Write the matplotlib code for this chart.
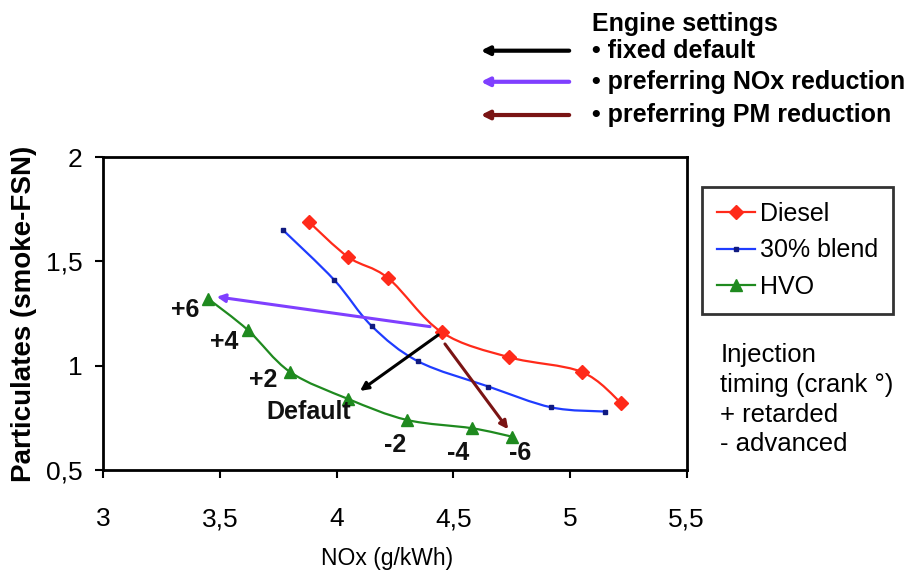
import matplotlib
matplotlib.use("Agg")
import matplotlib.pyplot as plt
from matplotlib.patches import FancyArrowPatch, PathPatch
from matplotlib.path import Path
from matplotlib.lines import Line2D

plt.rcParams['font.family'] = ['Liberation Sans', 'DejaVu Sans']

# ---- data ----
diesel_nox = [3.88, 4.05, 4.22, 4.45, 4.74, 5.05, 5.22]
diesel_pm = [1.69, 1.52, 1.42, 1.16, 1.04, 0.97, 0.82]

blend_nox = [3.77, 3.99, 4.15, 4.35, 4.65, 4.92, 5.15]
blend_pm = [1.65, 1.41, 1.19, 1.02, 0.90, 0.80, 0.78]

hvo_nox = [3.45, 3.62, 3.80, 4.05, 4.30, 4.58, 4.75]
hvo_pm = [1.32, 1.17, 0.97, 0.84, 0.74, 0.70, 0.66]

timing_labels = ["+6", "+4", "+2", "Default", "-2", "-4", "-6"]

arrow_names = ["fixed default", "preferring NOx reduction", "preferring PM reduction"]
arrow_start_nox = [4.435, 4.40, 4.464]
arrow_start_pm = [1.147, 1.187, 1.104]
arrow_end_nox = [4.10, 3.486, 4.735]
arrow_end_pm = [0.879, 1.33, 0.695]

x_ticks = [3, 3.5, 4, 4.5, 5, 5.5]
x_tick_labels = ["3", "3,5", "4", "4,5", "5", "5,5"]
y_ticks = [0.5, 1, 1.5, 2]
y_tick_labels = ["0,5", "1", "1,5", "2"]


def smooth_path(xs, ys):
    """Excel-like smoothed line: cubic Bezier segments through the points."""
    pts = list(zip(xs, ys))
    n = len(pts)
    verts = [pts[0]]
    codes = [Path.MOVETO]
    for i in range(n - 1):
        p0 = pts[i - 1] if i > 0 else pts[i]
        p1 = pts[i]
        p2 = pts[i + 1]
        p3 = pts[i + 2] if i + 2 < n else pts[i + 1]
        c1 = (p1[0] + (p2[0] - p0[0]) / 6, p1[1] + (p2[1] - p0[1]) / 6)
        c2 = (p2[0] - (p3[0] - p1[0]) / 6, p2[1] - (p3[1] - p1[1]) / 6)
        verts += [c1, c2, p2]
        codes += [Path.CURVE4] * 3
    return Path(verts, codes)


# ---- figure ----
fig = plt.figure(figsize=(9.06, 5.80), dpi=100)
ax = fig.add_axes([0.114, 0.1897, 0.758 - 0.114, 0.7293 - 0.1897])

series = [
    (diesel_nox, diesel_pm, "Diesel", "#ff2a1a", "D", 7, "#ff2a1a"),
    (blend_nox, blend_pm, "30% blend", "#1f3cff", "s", 3.5, "#101a80"),
    (hvo_nox, hvo_pm, "HVO", "#1f8a1f", "^", 8.5, "#1f8a1f"),
]
handles = []
for xs, ys, name, col, mk, ms, mcol in series:
    ax.add_patch(PathPatch(smooth_path(xs, ys), facecolor="none", edgecolor=col,
                           lw=1.6, zorder=2))
    ax.plot(xs, ys, ls="none", marker=mk, markersize=ms, markerfacecolor=mcol,
            markeredgecolor=mcol, zorder=3)
    handles.append(Line2D([], [], color=col, lw=1.6, marker=mk, markersize=ms,
                          markerfacecolor=mcol, markeredgecolor=mcol, label=name))

arrow_colors = ["black", "#7f3fff", "#7a1414"]
for x0, y0, x1, y1, c in zip(arrow_start_nox, arrow_start_pm, arrow_end_nox,
                             arrow_end_pm, arrow_colors):
    ax.annotate("", xy=(x1, y1), xytext=(x0, y0),
                arrowprops=dict(arrowstyle="-|>", color=c, lw=2.2,
                                mutation_scale=12, shrinkA=0, shrinkB=0))

# timing labels (offsets from each HVO point)
label_offsets = [(-0.10, -0.053), (-0.10, -0.055), (-0.114, -0.04),
                 (-0.17, -0.06), (-0.05, -0.12), (-0.06, -0.12), (0.035, -0.08)]
for x, y, t, (dx, dy) in zip(hvo_nox, hvo_pm, timing_labels, label_offsets):
    ax.text(x + dx, y + dy, t, fontsize=18, fontweight="bold",
            ha="center", va="center", color="#111111")

ax.set_xlim(3, 5.5)
ax.set_ylim(0.5, 2)
ax.set_xticks(x_ticks)
ax.set_xticklabels(x_tick_labels)
ax.set_yticks(y_ticks)
ax.set_yticklabels(y_tick_labels)
ax.tick_params(axis="x", direction="out", length=6, width=1.5, labelsize=19, pad=21)
ax.tick_params(axis="y", direction="out", length=6, width=1.5, labelsize=19, pad=9)
for s in ax.spines.values():
    s.set_linewidth(2)

ax.set_xlabel("NOx (g/kWh)", fontsize=16.5)
ax.xaxis.set_label_coords(0.487, -0.245)
ax.set_ylabel("Particulates (smoke-FSN)", fontsize=20, fontweight="bold", labelpad=6)

leg = fig.legend(handles=handles, loc="upper left",
                 bbox_to_anchor=(0.775, 0.678), fontsize=18, frameon=True,
                 fancybox=False, edgecolor="black", handlelength=1.5,
                 handletextpad=0.2, labelspacing=0.5, borderpad=0.6,
                 borderaxespad=0)
leg.get_frame().set_linewidth(2)

fig.text(0.795, 0.408, "Injection\ntiming (crank °)\n+ retarded\n- advanced",
         fontsize=18.5, va="top", ha="left", linespacing=1.3)

# engine settings key
fig.text(0.653, 0.958, "Engine settings", fontsize=18, fontweight="bold",
         ha="left", va="center")
key_y = [0.9126, 0.859, 0.8017]
for name, c, y in zip(arrow_names, arrow_colors, key_y):
    fig.add_artist(FancyArrowPatch((0.6313, y), (0.5276, y), transform=fig.transFigure,
                                   arrowstyle="-|>", color=c, lw=3,
                                   mutation_scale=12))
    fig.text(0.653, y, "• " + name, fontsize=18, fontweight="bold",
             ha="left", va="center")

fig.savefig("out.png", dpi=100)
